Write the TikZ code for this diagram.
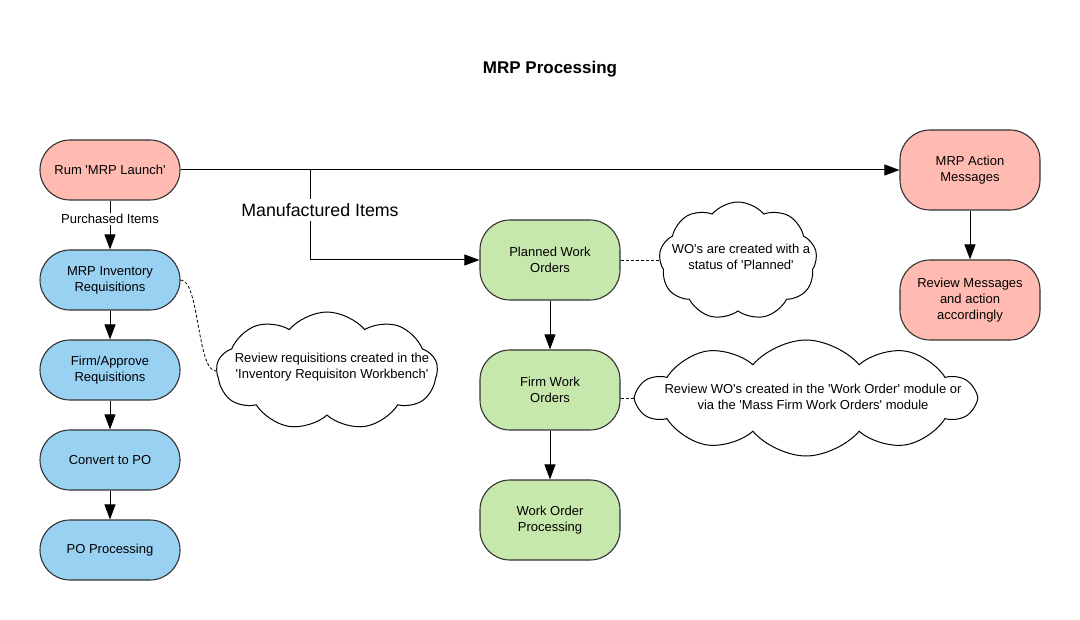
\documentclass[tikz,border=0pt]{standalone}
\usepackage{fontspec}
\setmainfont{Liberation Sans}
\usetikzlibrary{arrows.meta,shapes.symbols}
\newcommand{\mrpq}{\textquotesingle}
\definecolor{mrpred}{HTML}{FFBBB1}
\definecolor{mrpblue}{HTML}{99D1F3}
\definecolor{mrpgreen}{HTML}{C7E8AC}
\definecolor{mrpline}{HTML}{333333}

\begin{document}
\begin{tikzpicture}[>={Triangle[length=15pt,width=11pt]}, x=1pt, y=-1pt,
    every node/.style={font=\fontsize{13}{16}\selectfont},
    stage/.style={draw=mrpline, line width=1.1pt, rounded corners=30pt,
        minimum width=140pt, align=center, inner sep=0pt},
    cloudnote/.style={cloud, draw=black, line width=1pt, fill=white,
        cloud puffs=9, cloud puff arc=100, cloud ignores aspect, inner sep=0pt},
    notetext/.style={align=center, inner sep=0pt},
    flow/.style={line width=1pt},
    dashedlink/.style={line width=0.8pt, dash pattern=on 3pt off 2pt}]
    \useasboundingbox (0,0) rectangle (1080,620);

    \node[font=\bfseries\fontsize{17}{20}\selectfont] (title) at (550,69) {MRP Processing};

    % purchased items column
    \node[stage, fill=mrpred, minimum height=60pt] (launch) at (110,170) {Rum \mrpq MRP Launch\mrpq};
    \node[stage, fill=mrpblue, minimum height=60pt] (invreq) at (110,280) {MRP Inventory\\Requisitions};
    \node[stage, fill=mrpblue, minimum height=60pt] (firmreq) at (110,370) {Firm/Approve\\Requisitions};
    \node[stage, fill=mrpblue, minimum height=60pt] (topo) at (110,460) {Convert to PO};
    \node[stage, fill=mrpblue, minimum height=60pt] (poproc) at (110,550) {PO Processing};

    % manufactured items column
    \node[stage, fill=mrpgreen, minimum height=80pt] (plannedwo) at (550,260) {Planned Work\\Orders};
    \node[stage, fill=mrpgreen, minimum height=80pt] (firmwo) at (550,390) {Firm Work\\Orders};
    \node[stage, fill=mrpgreen, minimum height=80pt] (woproc) at (550,520) {Work Order\\Processing};

    % action messages
    \node[stage, fill=mrpred, minimum height=80pt] (action) at (970,170) {MRP Action\\Messages};
    \node[stage, fill=mrpred, minimum height=80pt] (review) at (970,300) {Review Messages\\and action\\accordingly};

    % notes
    \node[cloudnote, minimum width=221pt, minimum height=118pt] (reqnote) at (327,371) {};
    \node[notetext] (reqnotetxt) at (332,367)
        {Review requisitions created in the\\\mrpq Inventory Requisiton Workbench\mrpq};
    \node[cloudnote, minimum width=158pt, minimum height=118pt] (plannote) at (738,261) {};
    \node[notetext] (plannotetxt) at (741,257)
        {WO\mrpq s are created with a\\status of \mrpq Planned\mrpq};
    \node[cloudnote, cloud puffs=10, minimum width=337pt, minimum height=116pt] (firmnote) at (806,398) {};
    \node[notetext] (firmnotetxt) at (813,397)
        {Review WO\mrpq s created in the \mrpq Work Order\mrpq\ module or\\via the \mrpq Mass Firm Work Orders\mrpq\ module};

    % connectors
    \draw[flow, ->] (launch) -- node[pos=0.38, fill=white, inner sep=1pt] (purch) {Purchased Items} (invreq);
    \draw[flow, ->] (invreq) -- (firmreq);
    \draw[flow, ->] (firmreq) -- (topo);
    \draw[flow, ->] (topo) -- (poproc);

    \draw[flow, ->] (launch.east) -- (action.west);
    \draw[flow, ->] (action) -- (review);

    \coordinate (split) at (310,170);
    \node[font=\fontsize{17.8}{20}\selectfont, inner sep=4pt] (mfg) at (320,210) {Manufactured Items};
    \draw[flow] (split) -- (split |- mfg.north);
    \draw[flow, ->] (split |- mfg.south) -- (split |- plannedwo.west) -- (plannedwo.west);
    \draw[flow, ->] (plannedwo) -- (firmwo);
    \draw[flow, ->] (firmwo) -- (woproc);

    \draw[dashedlink] (invreq.east) to[out=0, in=180, looseness=0.5] (reqnote.west);
    \draw[dashedlink] (plannedwo.east) -- (plannedwo.east -| plannote.west);
    \draw[dashedlink] (firmnote.west -| firmwo.east) -- (firmnote.west);
\end{tikzpicture}
\end{document}
